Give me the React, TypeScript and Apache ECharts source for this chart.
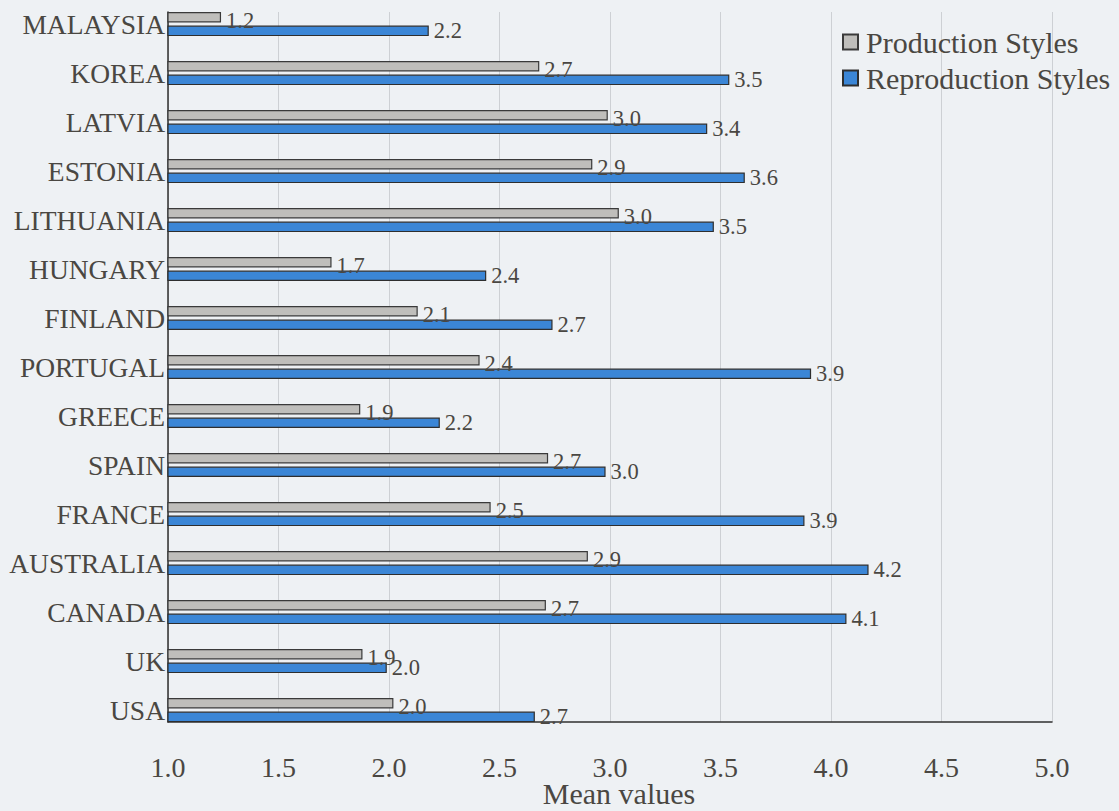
import React, { useEffect, useRef } from "react";
import * as echarts from "echarts";

const countries = [
  "MALAYSIA", "KOREA", "LATVIA", "ESTONIA", "LITHUANIA", "HUNGARY", "FINLAND",
  "PORTUGAL", "GREECE", "SPAIN", "FRANCE", "AUSTRALIA", "CANADA", "UK", "USA",
];
const productionStyles = [1.24, 2.68, 2.99, 2.92, 3.04, 1.74, 2.13, 2.41, 1.87, 2.72, 2.46, 2.9, 2.71, 1.88, 2.02];
const reproductionStyles = [2.18, 3.54, 3.44, 3.61, 3.47, 2.44, 2.74, 3.91, 2.23, 2.98, 3.88, 4.17, 4.07, 1.99, 2.66];
const seriesNames = ["Production Styles", "Reproduction Styles"];
const xMin = 1.0;
const xMax = 5.0;
const xStep = 0.5;
const axisTitle = "Mean values";

const FONT = "'Liberation Serif', 'Times New Roman', serif";
const TEXT = "#4a4742";
const BG = "#eef1f4";

export default function App() {
  const ref = useRef<HTMLDivElement>(null);
  useEffect(() => {
    if (!ref.current) return;
    const chart = echarts.init(ref.current, null, { renderer: "svg" });
    const fmt = (p: any) => Number(p.value).toFixed(1);
    chart.setOption({
      animation: false,
      backgroundColor: BG,
      textStyle: { fontFamily: FONT, color: TEXT },
      legend: {
        orient: "vertical",
        left: 837,
        top: 22,
        itemWidth: 15,
        itemHeight: 15,
        itemGap: 6,
        icon: "rect",
        data: seriesNames,
        textStyle: { fontFamily: FONT, fontSize: 30, lineHeight: 30, color: TEXT, padding: [0, 0, 0, 3] },
      },
      grid: [
        { left: 168, top: 12, width: 884, height: 710, containLabel: false, outerBoundsMode: "none" },
        { left: 168, top: 24, width: 884, height: 686, containLabel: false, outerBoundsMode: "none" },
      ],
      xAxis: [
        {
          gridIndex: 0,
          type: "value",
          min: xMin,
          max: xMax,
          interval: xStep,
          axisLine: { show: true, onZero: false, lineStyle: { color: "#2f2f2f", width: 1.5 } },
          axisTick: { show: false },
          splitLine: { show: true, lineStyle: { color: "#cdd0d4", width: 1 } },
          axisLabel: {
            margin: 31,
            fontSize: 28,
            fontFamily: FONT,
            color: TEXT,
            formatter: (v: number) => v.toFixed(1),
          },
          name: axisTitle,
          nameLocation: "middle",
          nameGap: 56,
          nameMoveOverlap: false,
          nameTextStyle: { fontSize: 30, lineHeight: 30, fontFamily: FONT, color: TEXT, padding: [0, 0, 0, 18] },
        },
        { gridIndex: 1, type: "value", min: xMin, max: xMax, show: false },
      ],
      yAxis: [
        {
          gridIndex: 0,
          type: "value",
          min: 0,
          max: 1,
          axisLine: { show: true, onZero: false, lineStyle: { color: "#2f2f2f", width: 1.5 } },
          axisTick: { show: false },
          axisLabel: { show: false },
          splitLine: { show: false },
        },
        {
          gridIndex: 1,
          type: "category",
          data: countries,
          inverse: true,
          boundaryGap: false,
          axisLine: { show: false },
          axisTick: { show: false },
          splitLine: { show: false },
          axisLabel: {
            margin: 3,
            fontSize: 27.5,
            fontFamily: FONT,
            color: TEXT,
            padding: [9, 0, 0, 0],
          },
        },
      ],
      series: [
        {
          name: seriesNames[0],
          type: "bar",
          xAxisIndex: 1,
          yAxisIndex: 1,
          data: productionStyles,
          barWidth: 10.5,
          barGap: "30%",
          itemStyle: { color: "#bfbebb", borderColor: "#3a3a3a", borderWidth: 1.2 },
          label: {
            show: true,
            position: "right",
            distance: 5,
            offset: [0, 3],
            fontSize: 22.5,
            fontFamily: FONT,
            color: TEXT,
            formatter: fmt,
          },
        },
        {
          name: seriesNames[1],
          type: "bar",
          xAxisIndex: 1,
          yAxisIndex: 1,
          data: reproductionStyles,
          barWidth: 10.5,
          barGap: "30%",
          itemStyle: { color: "#3b86d6", borderColor: "#2e2e2e", borderWidth: 1.2 },
          label: {
            show: true,
            position: "right",
            distance: 5,
            fontSize: 22.5,
            fontFamily: FONT,
            color: TEXT,
            formatter: fmt,
          },
        },
      ],
    });
    return () => chart.dispose();
  }, []);
  return (
    <div
      ref={ref}
      style={{ position: "fixed", left: 0, top: 0, width: 1119, height: 811, background: BG }}
    />
  );
}
